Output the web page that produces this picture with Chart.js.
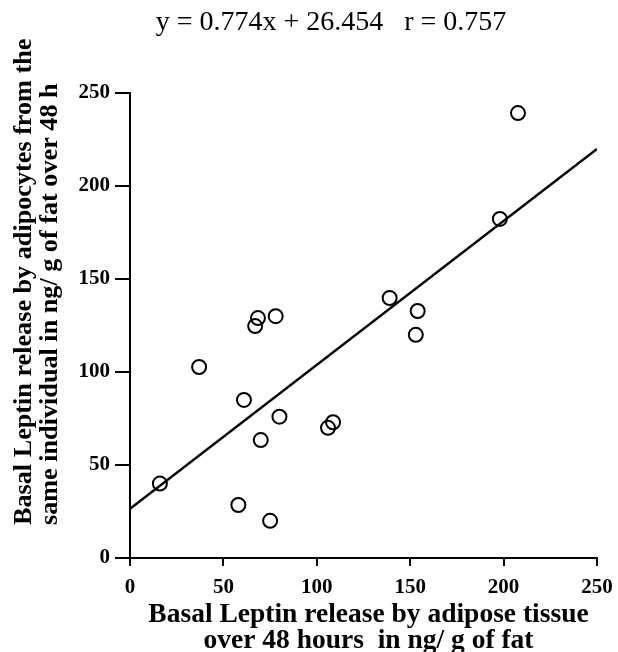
<!DOCTYPE html>
<html>
<head>
<meta charset="utf-8">
<script src="https://cdn.jsdelivr.net/npm/chart.js@4.4.1/dist/chart.umd.min.js"></script>
<style>
  html, body { margin: 0; padding: 0; background: #fff; }
  #wrap { width: 618px; height: 652px; }
</style>
</head>
<body>
<div id="wrap"><canvas id="myChart" width="618" height="652"></canvas></div>
<script>
// values
const tissueRelease = [16, 37, 61, 67, 68.5, 78, 70, 80, 58, 75, 106, 108.7, 139, 154, 153, 198, 207.7];
const adipocyteRelease = [40, 102.7, 85, 124.7, 129, 130, 63.4, 76, 28.5, 20, 70, 73, 139.8, 132.8, 120, 182.3, 239.2];

// regression printed above the plot
const fitSlope = 0.774;
const fitIntercept = 26.454;
const fitRange = [0, 250];

const titleText = 'y = 0.774x + 26.454   r = 0.757';
const xTitle = ['Basal Leptin release by adipose tissue', 'over 48 hours  in ng/ g of fat'];
const yTitle = ['Basal Leptin release by adipocytes from the', 'same individual in ng/ g of fat over 48 h'];

const serif = '"Liberation Serif", "Times New Roman", serif';

const points = tissueRelease.map((x, i) => ({x: x, y: adipocyteRelease[i]}));
const fitLine = fitRange.map(x => ({x: x, y: fitSlope * x + fitIntercept}));

// titles drawn relative to the chart area
const titlesPlugin = {
    id: 'titles',
    afterDraw(chart) {
        const ctx = chart.ctx;
        const area = chart.chartArea;
        ctx.save();
        ctx.fillStyle = '#000';

        ctx.font = '28px ' + serif;
        ctx.textAlign = 'center';
        ctx.textBaseline = 'alphabetic';
        ctx.fillText(titleText, area.left + 201, area.top - 63);

        ctx.font = 'bold 27.5px ' + serif;
        const cx = (area.left + area.right) / 2 + 5;
        ctx.fillText(xTitle[0], cx, area.bottom + 64);
        ctx.fillText(xTitle[1], cx, area.bottom + 90);

        ctx.font = 'bold 26.2px ' + serif;
        ctx.translate(0, area.bottom - 33);
        ctx.rotate(-Math.PI / 2);
        ctx.textAlign = 'left';
        ctx.fillText(yTitle[0], 0, 31);
        ctx.fillText(yTitle[1], 0, 57);
        ctx.restore();
    }
};

const tickFont = {family: serif, size: 21, weight: 'bold'};

new Chart(document.getElementById('myChart').getContext('2d'), {
    type: 'scatter',
    data: {
        datasets: [{
            data: points,
            pointStyle: 'circle',
            pointRadius: 7,
            pointBorderWidth: 2,
            borderColor: '#000',
            backgroundColor: 'rgba(0,0,0,0)'
        }, {
            type: 'line',
            data: fitLine,
            borderColor: '#000',
            borderWidth: 2.5,
            pointRadius: 0,
            fill: false
        }]
    },
    options: {
        responsive: false,
        animation: false,
        layout: { padding: {top: 93, right: 21, left: 0, bottom: 0} },
        plugins: {
            legend: { display: false },
            tooltip: { enabled: false },
            title: { display: false }
        },
        scales: {
            x: {
                type: 'linear',
                min: 0, max: 250,
                ticks: { stepSize: 50, color: '#000', font: tickFont, padding: 9, maxRotation: 0 },
                grid: { drawOnChartArea: false, drawTicks: true, tickLength: 8, color: '#000', lineWidth: 2 },
                border: { color: '#000', width: 2 },
                afterFit(scale) {
                    scale.height = 94;
                    scale.paddingLeft = 0;
                    scale.paddingRight = 0;
                }
            },
            y: {
                type: 'linear',
                min: 0, max: 250,
                ticks: { stepSize: 50, color: '#000', font: tickFont, padding: 5 },
                grid: { drawOnChartArea: false, drawTicks: true, tickLength: 15, color: '#000', lineWidth: 2 },
                border: { color: '#000', width: 2 },
                afterFit(scale) {
                    scale.width = 130;
                    scale.paddingTop = 0;
                    scale.paddingBottom = 0;
                }
            }
        }
    },
    plugins: [titlesPlugin]
});
</script>
</body>
</html>
